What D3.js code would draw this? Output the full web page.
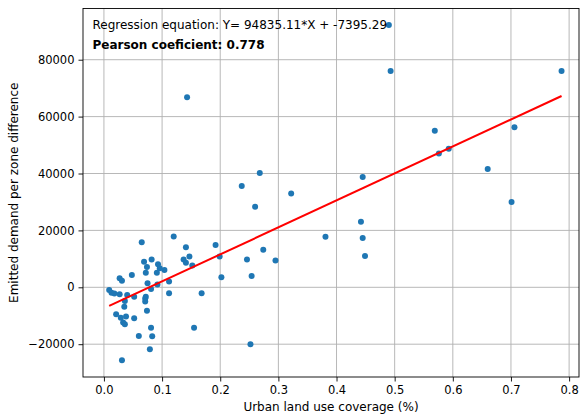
<!DOCTYPE html>
<html>
<head>
<meta charset="utf-8" />
<title>Urban land use vs emitted demand</title>
<script src="https://d3js.org/d3.v7.min.js"></script>
<style>
  body { margin: 0; background: #fff; }
  svg text { font-family: 'DejaVu Sans', sans-serif; fill: #000; }
</style>
</head>
<body>
<div id="chart"></div>
<script>
// values
var urbanCoverage = [0.490, 0.493, 0.787, 0.569, 0.576, 0.593, 0.706, 0.660, 0.701, 0.445,
  0.442, 0.268, 0.237, 0.322, 0.260, 0.381, 0.445, 0.449, 0.192, 0.199,
  0.274, 0.246, 0.295, 0.202, 0.254, 0.168, 0.252, 0.143, 0.120, 0.065,
  0.069, 0.082, 0.074, 0.072, 0.093, 0.091, 0.048, 0.027, 0.031, 0.075,
  0.092, 0.112, 0.009, 0.013, 0.027, 0.040, 0.072, 0.141, 0.147, 0.137,
  0.141, 0.152, 0.104, 0.096, 0.081, 0.112, 0.052, 0.071, 0.071, 0.036,
  0.035, 0.021, 0.029, 0.038, 0.052, 0.033, 0.036, 0.074, 0.081, 0.060,
  0.083, 0.079, 0.031, 0.155, 0.018];
var demandDiff = [92200, 76000, 76000, 55000, 47000, 48700, 56300, 41600, 30000, 38800,
  23000, 40200, 35600, 33000, 28300, 17800, 17300, 11000, 14900, 10800,
  13200, 9800, 9400, 3500, 4000, -2100, -20000, 66800, 17900, 15800,
  9000, 9800, 7100, 5100, 8100, 5100, 4300, 3200, 2300, 1400,
  1000, 2000, -950, -1900, -2400, -2700, -3300, 14100, 10800, 9800,
  8600, 7700, 6100, 6700, -600, -2100, -3300, -3900, -5000, -4800,
  -6800, -9500, -10700, -10300, -10900, -12400, -13000, -8200, -14200, -17100,
  -17200, -21800, -25600, -14200, -2200];

var xTicks = [0.0, 0.1, 0.2, 0.3, 0.4, 0.5, 0.6, 0.7, 0.8];
var yTicks = [-20000, 0, 20000, 40000, 60000, 80000];

var slope = 94835.11;
var intercept = -7395.29;
var pearson = 0.778;

var width = 583, height = 417;
var margin = { left: 83, right: 4, top: 8.5, bottom: 40 };

var svg = d3.select("#chart").append("svg")
  .attr("width", width)
  .attr("height", height);

var x = d3.scaleLinear().domain([-0.036, 0.817]).range([margin.left, width - margin.right]);
var y = d3.scaleLinear().domain([-31530, 98000]).range([height - margin.bottom, margin.top]);

// grid lines
svg.append("g").selectAll("line.vgrid")
  .data(xTicks).enter().append("line")
  .attr("x1", function (d) { return x(d); })
  .attr("x2", function (d) { return x(d); })
  .attr("y1", y.range()[0]).attr("y2", y.range()[1])
  .attr("stroke", "#b0b0b0").attr("stroke-width", 0.9);

svg.append("g").selectAll("line.hgrid")
  .data(yTicks).enter().append("line")
  .attr("y1", function (d) { return y(d); })
  .attr("y2", function (d) { return y(d); })
  .attr("x1", x.range()[0]).attr("x2", x.range()[1])
  .attr("stroke", "#b0b0b0").attr("stroke-width", 0.9);

// points
var pts = urbanCoverage.map(function (v, i) { return [v, demandDiff[i]]; });
svg.append("g").selectAll("circle")
  .data(pts).enter().append("circle")
  .attr("cx", function (d) { return x(d[0]); })
  .attr("cy", function (d) { return y(d[1]); })
  .attr("r", 3)
  .attr("fill", "#1f77b4");

// regression line over the x range of the data
var xr = d3.extent(urbanCoverage);
svg.append("line")
  .attr("x1", x(xr[0])).attr("y1", y(slope * xr[0] + intercept))
  .attr("x2", x(xr[1])).attr("y2", y(slope * xr[1] + intercept))
  .attr("stroke", "red").attr("stroke-width", 2);

// axes
svg.append("g")
  .attr("transform", "translate(0," + y.range()[0] + ")")
  .call(d3.axisBottom(x).tickValues(xTicks).tickFormat(d3.format(".1f")).tickSizeOuter(0).tickSize(4.5).tickPadding(4));
svg.append("g")
  .attr("transform", "translate(" + x.range()[0] + ",0)")
  .call(d3.axisLeft(y).tickValues(yTicks).tickFormat(function (d) { return d < 0 ? "\u2212" + Math.abs(d) : d; }).tickSizeOuter(0).tickSize(4.5).tickPadding(4));

svg.selectAll(".tick text")
  .style("font-size", "11.5px")
  .style("font-family", "'DejaVu Sans', sans-serif")
  .attr("fill", "#000");
svg.selectAll(".tick line").attr("stroke", "#000").attr("stroke-width", 0.9);
svg.selectAll(".domain").remove();

// frame
svg.append("rect")
  .attr("x", x.range()[0]).attr("y", y.range()[1])
  .attr("width", x.range()[1] - x.range()[0])
  .attr("height", y.range()[0] - y.range()[1])
  .attr("fill", "none").attr("stroke", "#000").attr("stroke-width", 0.9);

// labels
svg.append("text")
  .attr("x", (x.range()[0] + x.range()[1]) / 2)
  .attr("y", 411)
  .attr("text-anchor", "middle")
  .style("font-size", "12px")
  .text("Urban land use coverage (%)");

svg.append("text")
  .attr("transform", "translate(18," + ((y.range()[0] + y.range()[1]) / 2) + ") rotate(-90)")
  .attr("text-anchor", "middle")
  .style("font-size", "12px")
  .text("Emitted demand per zone difference");

svg.append("text")
  .attr("x", 92.5).attr("y", 29)
  .style("font-size", "12px")
  .text("Regression equation: Y= " + slope.toFixed(2) + "*X + " + intercept.toFixed(2));

svg.append("text")
  .attr("x", 92.5).attr("y", 48.5)
  .style("font-size", "12px")
  .style("font-weight", "bold")
  .text("Pearson coeficient: " + pearson);
</script>
</body>
</html>
